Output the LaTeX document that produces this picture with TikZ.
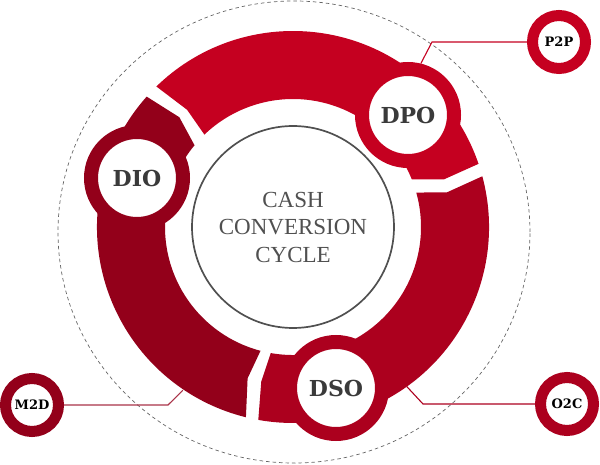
\documentclass[tikz,border=0pt]{standalone}
\usepackage{fontspec}
\newfontfamily\slabfont{DejaVu Serif}
\newfontfamily\cyclefont{Liberation Serif}
\definecolor{dpored}{RGB}{197,0,32}
\definecolor{dsored}{RGB}{172,0,30}
\definecolor{diored}{RGB}{147,0,26}
\definecolor{labelgray}{RGB}{58,58,58}
\definecolor{ringgray}{RGB}{80,80,80}
\tikzset{%
  badge/.style={circle,fill=white,draw=#1,line width=14pt,minimum size=92pt,inner sep=0pt,
    text=labelgray,font=\slabfont\bfseries\fontsize{22}{22}\selectfont},
  badge/.default=dpored,
  tag/.style={circle,fill=white,draw=#1,line width=11pt,minimum size=53pt,inner sep=0pt,
    text=black,font=\slabfont\bfseries\fontsize{13}{13}\selectfont},
  tag/.default=dpored,
  link/.style={line width=1.1pt,draw=#1},
  link/.default=dpored
}
\begin{document}
\begin{tikzpicture}[x=1pt,y=1pt]
    \useasboundingbox (0,0) rectangle (600,464);
    \coordinate (ring) at (293,237);

    % dashed guide circle behind everything
    \draw[gray!80!black, line width=0.7pt, dash pattern=on 3.5pt off 3pt]
        (294,232) ellipse [x radius=236, y radius=231];

    % the three arrow segments of the ring (clockwise: DPO, DSO, DIO)
    \fill[dpored, shift={(ring)}] (133.8:128) -- (132.1:158) -- (134.2:196)
        arc[start angle=134.2, end angle=18.8, radius=196]
        -- (17.5:158) -- (21.9:128)
        arc[start angle=21.9, end angle=133.8, radius=128] -- cycle;

    \fill[dsored, shift={(ring)}] (15.6:128) -- (12.7:158) -- (15:196)
        arc[start angle=15, end angle=-100.2, radius=196]
        -- (-101.6:158) -- (-100:128)
        arc[start angle=-100, end angle=15.6, radius=128] -- cycle;

    \fill[diored, shift={(ring)}] (255.3:128) -- (253.3:158) -- (256.1:196)
        arc[start angle=256.1, end angle=138.3, radius=196]
        -- (136:158) -- (140.3:128)
        arc[start angle=140.3, end angle=255.3, radius=128] -- cycle;

    % centre
    \node[circle, draw=ringgray, line width=1.7pt, minimum size=202pt, align=center,
        text=ringgray, font=\cyclefont\fontsize{23}{27.5}\selectfont] (ccc) at (ring)
        {CASH\\CONVERSION\\CYCLE};

    % badges on the ring
    \node[badge=dpored] (dpo) at (408,349) {DPO};
    \node[badge=diored] (dio) at (137,286) {DIO};
    \node[badge=dsored] (dso) at (336,76) {DSO};

    % outer tags
    \node[tag=dpored] (p2p) at (559,422) {P2P};
    \node[tag=diored] (m2d) at (32,59) {M2D};
    \node[tag=dsored] (o2c) at (567,60) {O2C};

    % connectors
    \coordinate (p2pk) at (432,422);
    \draw[link=dpored] (dpo.76) -- (p2pk) -- (p2p.west);

    \coordinate (m2dend) at ([shift={(-124:197)}]ring);
    \coordinate (m2dk) at (168,59);
    \draw[link=diored!80] (m2dend) -- (m2dk) -- (m2d.east);

    \coordinate (o2cend) at ([shift={(-54.5:196)}]ring);
    \coordinate (o2ck) at (423,60);
    \draw[link=dsored] (o2cend) -- (o2ck) -- (o2c.west);

\end{tikzpicture}
\end{document}
